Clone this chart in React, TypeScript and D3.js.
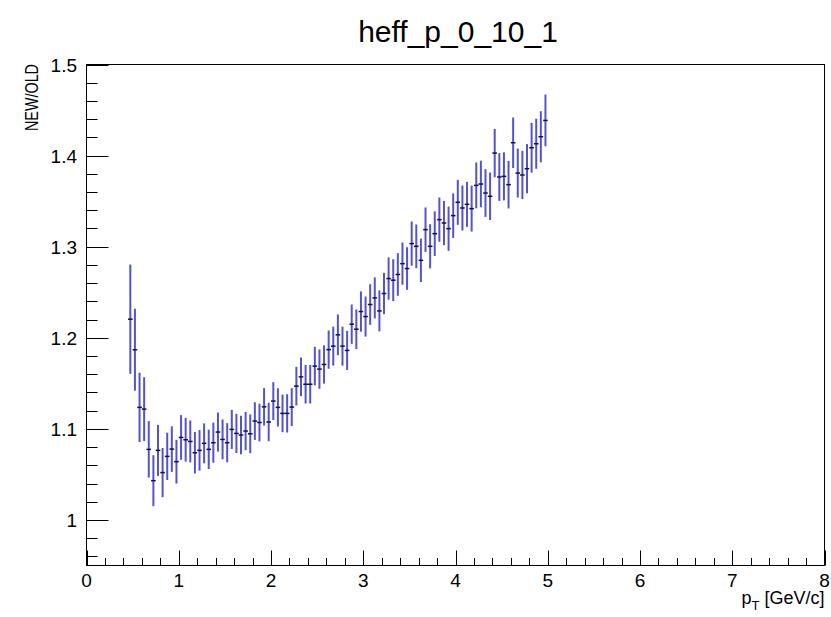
import React from "react";
import * as d3 from "d3";

const pT = [
  0.475, 0.525, 0.575, 0.625, 0.675, 0.725, 0.775, 0.825, 0.875, 0.925,
  0.975, 1.025, 1.075, 1.125, 1.175, 1.225, 1.275, 1.325, 1.375, 1.425,
  1.475, 1.525, 1.575, 1.625, 1.675, 1.725, 1.775, 1.825, 1.875, 1.925,
  1.975, 2.025, 2.075, 2.125, 2.175, 2.225, 2.275, 2.325, 2.375, 2.425,
  2.475, 2.525, 2.575, 2.625, 2.675, 2.725, 2.775, 2.825, 2.875, 2.925,
  2.975, 3.025, 3.075, 3.125, 3.175, 3.225, 3.275, 3.325, 3.375, 3.425,
  3.475, 3.525, 3.575, 3.625, 3.675, 3.725, 3.775, 3.825, 3.875, 3.925,
  3.975, 4.025, 4.075, 4.125, 4.175, 4.225, 4.275, 4.325, 4.375, 4.425,
  4.475, 4.525, 4.575, 4.625, 4.675, 4.725, 4.775, 4.825, 4.875, 4.925,
  4.975,
];

const ratio = [
  1.2204, 1.1868, 1.1236, 1.1217, 1.0775, 1.0431, 1.0764, 1.052, 1.0698, 1.0778,
  1.064, 1.0906, 1.088, 1.0862, 1.0738, 1.0764, 1.0841, 1.0775, 1.0848, 1.0965,
  1.0884, 1.0848, 1.0994, 1.095, 1.0932, 1.0976, 1.0946, 1.1086, 1.107, 1.1242,
  1.1075, 1.1305, 1.1236, 1.117, 1.117, 1.1239, 1.1469, 1.1571, 1.149, 1.149,
  1.1689, 1.1656, 1.1707, 1.187, 1.1908, 1.2032, 1.1908, 1.1861, 1.2149, 1.2094,
  1.2288, 1.2233, 1.2365, 1.2438, 1.2295, 1.2486, 1.265, 1.2632, 1.2695, 1.2814,
  1.276, 1.3034, 1.3004, 1.285, 1.3187, 1.3004, 1.3143, 1.3297, 1.326, 1.3198,
  1.3341, 1.3487, 1.3425, 1.3465, 1.3418, 1.3673, 1.3688, 1.3589, 1.3553, 1.4028,
  1.3765, 1.3772, 1.3681, 1.4141, 1.3808, 1.3787, 1.3856, 1.4086, 1.413, 1.4207,
  1.4386,
];

const ratioErr = [
  0.06, 0.045, 0.038, 0.035, 0.031, 0.028, 0.028, 0.027, 0.026, 0.025,
  0.024, 0.0245, 0.024, 0.023, 0.0228, 0.0223, 0.0219, 0.0216, 0.022, 0.0215,
  0.0219, 0.0215, 0.0215, 0.0215, 0.0212, 0.021, 0.0213, 0.0207, 0.0207, 0.0205,
  0.0211, 0.0208, 0.021, 0.0206, 0.021, 0.0208, 0.0212, 0.0212, 0.0212, 0.0212,
  0.0212, 0.0216, 0.021, 0.021, 0.0214, 0.0224, 0.0214, 0.0214, 0.0216, 0.0218,
  0.0221, 0.022, 0.0223, 0.0225, 0.0225, 0.0227, 0.0232, 0.023, 0.0234, 0.0232,
  0.0234, 0.0243, 0.024, 0.0238, 0.0244, 0.0243, 0.0245, 0.0243, 0.0243, 0.0243,
  0.0245, 0.0247, 0.0247, 0.0247, 0.0252, 0.0252, 0.0256, 0.0262, 0.0261, 0.0265,
  0.0262, 0.0264, 0.0261, 0.0277, 0.0269, 0.0265, 0.027, 0.0273, 0.0275, 0.028,
  0.0284,
];

const binWidth = 0.05;
const xDomain = [0, 8];
const yDomain = [0.95, 1.5];
const xMajorTicks = [0, 1, 2, 3, 4, 5, 6, 7, 8];
const yMajorTicks = [1, 1.1, 1.2, 1.3, 1.4, 1.5];
const yTickLabels = ["1", "1.1", "1.2", "1.3", "1.4", "1.5"];
const title = "heff_p_0_10_1";
const yTitle = "NEW/OLD";

const W = 831;
const H = 617;
const L = 86.5;
const R = 824.5;
const T = 64.5;
const B = 565.5;
const FONT = "'Liberation Sans', Arial, Helvetica, sans-serif";

export default function App() {
  const x = d3.scaleLinear().domain(xDomain).range([L, R]);
  const y = d3.scaleLinear().domain(yDomain).range([B, T]);

  const xMinor = d3.range(0, 40 + 1).map((i) => i * 0.2).filter((v) => Math.abs(v - Math.round(v)) > 1e-6);
  const yMinor = d3
    .range(0, 28)
    .map((i) => 0.96 + i * 0.02)
    .filter((v) => v <= 1.5 + 1e-9 && Math.abs(v * 10 - Math.round(v * 10)) > 1e-6);

  const points = pT.map((p, i) => ({ p, v: ratio[i], e: ratioErr[i] }));

  return (
    <svg
      width={W}
      height={H}
      style={{ position: "absolute", left: 0, top: 0, background: "#fff" }}
      fontFamily={FONT}
    >
      <rect x={0} y={0} width={W} height={H} fill="#fff" />
      {/* title */}
      <text x={458} y={42} textAnchor="middle" fontSize={30} fill="#000">
        {title}
      </text>

      {/* frame */}
      <rect x={L} y={T} width={R - L} height={B - T} fill="none" stroke="#000" strokeWidth={1} />

      {/* y ticks */}
      {yMajorTicks.map((v, i) => (
        <g key={"ym" + i}>
          <line x1={L} x2={L + 22} y1={Math.round(y(v)) + 0.5} y2={Math.round(y(v)) + 0.5} stroke="#000" />
          <text x={77} y={y(v) + 7} textAnchor="end" fontSize={19} fill="#000">
            {yTickLabels[i]}
          </text>
        </g>
      ))}
      {yMinor.map((v, i) => (
        <line key={"yn" + i} x1={L} x2={L + 11} y1={Math.round(y(v)) + 0.5} y2={Math.round(y(v)) + 0.5} stroke="#000" />
      ))}

      {/* x ticks */}
      {xMajorTicks.map((v) => (
        <g key={"xm" + v}>
          <line x1={Math.round(x(v)) + 0.5} x2={Math.round(x(v)) + 0.5} y1={B} y2={B - 15} stroke="#000" />
          <text x={x(v)} y={587} textAnchor="middle" fontSize={19} fill="#000">
            {v}
          </text>
        </g>
      ))}
      {xMinor.map((v, i) => (
        <line key={"xn" + i} x1={Math.round(x(v)) + 0.5} x2={Math.round(x(v)) + 0.5} y1={B} y2={B - 7.5} stroke="#000" />
      ))}

      {/* axis titles */}
      <text
        transform={`translate(38, ${T - 0.5}) rotate(-90)`}
        textAnchor="end"
        fontSize={19}
        textLength={67}
        lengthAdjust="spacingAndGlyphs"
        fill="#000"
      >
        {yTitle}
      </text>
      <text x={R} y={604} textAnchor="end" fontSize={18} fill="#000">
        p
        <tspan fontSize={13} dy={6}>T</tspan>
        <tspan dy={-6}> [GeV/c]</tspan>
      </text>

      {/* data */}
      {points.map((d, i) => (
        <g key={"pt" + i}>
          <line
            x1={x(d.p)}
            x2={x(d.p)}
            y1={y(d.v - d.e)}
            y2={y(d.v + d.e)}
            stroke="#3535c6"
            strokeOpacity={0.85}
            strokeWidth={2}
          />
          <line
            x1={x(d.p - binWidth / 2)}
            x2={x(d.p + binWidth / 2)}
            y1={y(d.v)}
            y2={y(d.v)}
            stroke="#10104a"
            strokeWidth={1.5}
          />
        </g>
      ))}
    </svg>
  );
}
